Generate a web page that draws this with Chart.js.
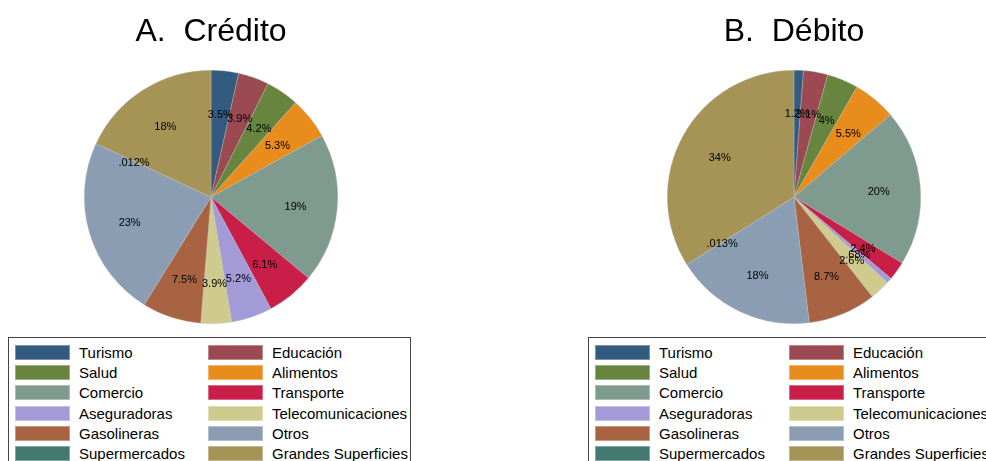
<!DOCTYPE html>
<html>
<head>
<meta charset="utf-8">
<script src="https://cdn.jsdelivr.net/npm/chart.js@4"></script>
<style>
    body { margin: 0; background: #fff; font-family: "Liberation Sans", Arial, sans-serif; }
    #pagina { position: relative; width: 986px; height: 461px; overflow: hidden; }
    .caja { position: absolute; }
    .leyenda { position: absolute; top: 337px; height: 140px; border: 1px solid #444; background: #fff; }
    .item { position: absolute; height: 15px; font-size: 15px; line-height: 15px; color: #000; white-space: nowrap; }
    .item span.cuadro { position: absolute; left: 0; top: 0; width: 55px; height: 15px; box-sizing: border-box; border: 1px solid rgba(255,255,255,0.35); }
    .item span.texto { position: absolute; left: 64px; top: 0; }
</style>
</head>
<body>
<div id="pagina">
    <div class="caja" style="left:2px;top:0px;width:424px;height:326px;"><canvas id="ChartCredito"></canvas></div>
    <div class="caja" style="left:585px;top:0px;width:424px;height:326px;"><canvas id="ChartDebito"></canvas></div>
    <div class="leyenda" id="LeyendaCredito" style="left:8px;width:401px;"></div>
    <div class="leyenda" id="LeyendaDebito" style="left:588px;width:420px;"></div>
</div>
<script>
// orden de las porciones (sentido horario desde las 12)
const categorias = ['Turismo', 'Educación', 'Salud', 'Alimentos', 'Comercio', 'Transporte',
    'Aseguradoras', 'Telecomunicaciones', 'Gasolineras', 'Otros', 'Supermercados', 'Grandes Superficies'];

const colores = ['#335b80', '#9b4a52', '#67853f', '#e88c1c', '#7f9a8f', '#c81e48',
    '#a29bd8', '#cfca8d', '#a86442', '#8a9db3', '#427a72', '#a69356'];

// porcentajes
const credito = [3.5, 3.9, 4.2, 5.3, 19, 6.1, 5.2, 3.9, 7.5, 23, 0.012, 18];
const debito = [1.2, 3.1, 4, 5.5, 20, 2.4, 0.68, 2.6, 8.7, 18, 0.013, 34];

function formatoPct(v) {
    // dos cifras significativas, sin cero inicial
    let s = Number(v.toPrecision(2)).toString();
    return s.replace(/^0\./, '.') + '%';
}

const etiquetasPie = {
    id: 'etiquetasPie',
    afterDatasetsDraw(chart) {
        const ctx = chart.ctx;
        const meta = chart.getDatasetMeta(0);
        const valores = chart.data.datasets[0].data;
        ctx.save();
        ctx.font = '11px "Liberation Sans", Arial, sans-serif';
        ctx.fillStyle = '#000';
        ctx.textAlign = 'center';
        ctx.textBaseline = 'middle';
        meta.data.forEach((arco, i) => {
            const p = arco.getProps(['x', 'y', 'startAngle', 'endAngle', 'outerRadius'], true);
            const ang = (p.startAngle + p.endAngle) / 2;
            const r = p.outerRadius * 0.67;
            ctx.fillText(formatoPct(valores[i]), p.x + Math.cos(ang) * r, p.y + Math.sin(ang) * r + 2);
        });
        ctx.restore();
    }
};

function creaPie(id, titulo, datos) {
    return new Chart(document.getElementById(id), {
        type: 'pie',
        data: {
            labels: categorias,
            datasets: [{
                data: datos,
                backgroundColor: colores,
                borderColor: 'rgba(190,190,190,0.6)',
                borderWidth: 0.6
            }]
        },
        options: {
            responsive: true,
            maintainAspectRatio: false,
            animation: false,
            layout: { padding: { bottom: 2, right: 6 } },
            plugins: {
                legend: { display: false },
                tooltip: { enabled: false },
                title: {
                    display: true,
                    text: titulo,
                    color: '#000',
                    font: { family: '"Liberation Sans", Arial, sans-serif', size: 32, weight: 'normal', lineHeight: 1.2 },
                    padding: { top: 12.5, bottom: 19 }
                }
            }
        },
        plugins: [etiquetasPie]
    });
}

function creaLeyenda(id, xSegunda) {
    const caja = document.getElementById(id);
    categorias.forEach((nombre, i) => {
        const fila = Math.floor(i / 2);
        const col = i % 2;
        const item = document.createElement('div');
        item.className = 'item';
        item.style.left = (col === 0 ? 6 : xSegunda) + 'px';
        item.style.top = (7 + fila * 20.2) + 'px';
        item.innerHTML = '<span class="cuadro" style="background:' + colores[i] + '"></span><span class="texto">' + nombre + '</span>';
        caja.appendChild(item);
    });
}

creaPie('ChartCredito', 'A.  Crédito', credito);
creaPie('ChartDebito', 'B.  Débito', debito);
creaLeyenda('LeyendaCredito', 199);
creaLeyenda('LeyendaDebito', 200);
</script>
</body>
</html>
